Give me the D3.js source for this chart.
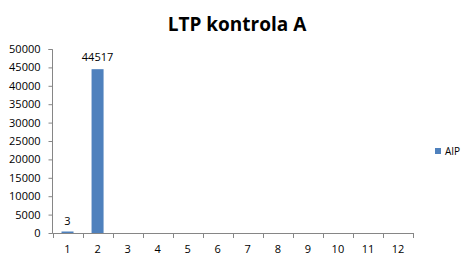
<!DOCTYPE html>
<html><head><meta charset="utf-8">
<script src="https://cdn.jsdelivr.net/npm/d3@7"></script>
<style>body{margin:0;background:#fff}svg{display:block}text{font-family:"Open Sans",sans-serif;fill:#000}</style>
</head><body><svg width="471" height="263"></svg>
<script>
const categories = ["1","2","3","4","5","6","7","8","9","10","11","12"];
const values = [3,44517,null,null,null,null,null,null,null,null,null,null];
const dataLabels = ["3","44517"];
const yTicks = [0,5000,10000,15000,20000,25000,30000,35000,40000,45000,50000];
const seriesName = "AIP";
const title = "LTP kontrola A";

const svg = d3.select("svg");
const L=52.5, R=413, T=49, B=233;
const x = d3.scaleBand().domain(categories).range([L,R]).paddingInner(0.6).paddingOuter(0.3);
const y = d3.scaleLinear().domain([0,50000]).range([B,T]);

svg.append("text").attr("x",237).attr("y",31).attr("text-anchor","middle")
  .style("font-size","19px").style("font-weight","bold").text(title);

// y axis
const ya = svg.append("g").attr("transform",`translate(${L},0)`)
  .call(d3.axisLeft(y).tickValues(yTicks).tickSize(4).tickPadding(8).tickFormat(d=>String(d)));
ya.selectAll("path").attr("stroke","#868686").attr("d",`M-4,${T+0.5}H0V${B+0.5}`);
ya.selectAll("line").attr("stroke","#868686");
ya.selectAll("text").style("font-size","11px").style("font-family","'Open Sans',sans-serif");

// x axis
const xs = d3.scaleLinear().domain([0,12]).range([L,R]);
const xg = svg.append("g");
xg.append("line").attr("x1",L).attr("x2",R).attr("y1",B+0.5).attr("y2",B+0.5).attr("stroke","#868686");
xg.selectAll("line.t").data(d3.range(13)).join("line").attr("class","t")
  .attr("x1",d=>Math.round(xs(d))+0.5).attr("x2",d=>Math.round(xs(d))+0.5).attr("y1",B).attr("y2",B+5).attr("stroke","#868686");
xg.selectAll("text").data(categories).join("text")
  .attr("x",d=>x(d)+x.bandwidth()/2).attr("y",B+20).attr("text-anchor","middle")
  .style("font-size","11px").text(d=>d);

// bars
const bars = categories.map((c,i)=>({c,v:values[i]})).filter(d=>d.v!=null);
svg.selectAll("rect.bar").data(bars).join("rect").attr("class","bar")
  .attr("x",d=>x(d.c)).attr("width",x.bandwidth())
  .attr("y",d=>Math.min(y(d.v),B-1.5)).attr("height",d=>Math.max(B-y(d.v),1.5))
  .attr("fill","#4F81BD");
svg.selectAll("text.lbl").data(bars).join("text").attr("class","lbl")
  .attr("x",d=>x(d.c)+x.bandwidth()/2).attr("y",d=>y(d.v)-8).attr("text-anchor","middle")
  .style("font-size","11px").text((d,i)=>dataLabels[i]);

// legend
svg.append("rect").attr("x",435).attr("y",148).attr("width",6).attr("height",6).attr("fill","#4F81BD");
svg.append("text").attr("x",445).attr("y",155).style("font-size","10px").text(seriesName);
</script></body></html>
